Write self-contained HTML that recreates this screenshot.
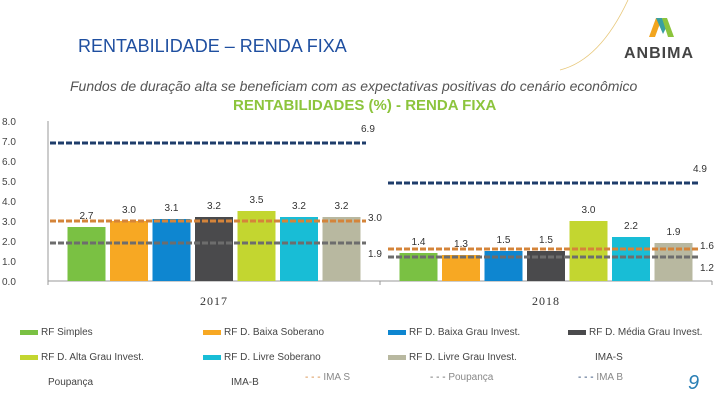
<!DOCTYPE html>
<html><head><meta charset="utf-8"><style>
body{margin:0;width:720px;height:405px;background:#fff;overflow:hidden;font-family:"Liberation Sans",sans-serif}
.t{position:absolute;white-space:nowrap}
.leg{position:absolute;font-size:10px;color:#444;white-space:nowrap}
.sw{display:inline-block;width:18px;height:5px;vertical-align:middle;margin-right:3px}
</style></head><body>
<div class="t" style="left:78px;top:36px;font-size:18px;color:#1f4fa0">RENTABILIDADE – RENDA FIXA</div>
<div class="t" style="left:70px;top:78px;font-size:14px;font-style:italic;color:#555">Fundos de duração alta se beneficiam com as expectativas positivas do cenário econômico</div>
<div class="t" style="left:233px;top:97px;font-size:15px;font-weight:bold;color:#8cc43c">RENTABILIDADES (%) - RENDA FIXA</div>
<svg style="position:absolute;left:0;top:0" width="720" height="80">
<path d="M628 0 Q600 60 560 70" stroke="#e8c87a" fill="none" stroke-width="0.8"/>
<polygon points="649,37 656,18 662,18 655,37" fill="#f2a51e"/>
<polygon points="656,18 662,18 666,28 663,34" fill="#3aa0a0"/>
<polygon points="662,18 667,18 674,37 668,37" fill="#8cc43c"/>
<text x="624" y="58" font-size="16" font-weight="bold" fill="#444" font-family="Liberation Sans" letter-spacing="1">ANBIMA</text>
</svg>
<svg id="chart" style="position:absolute;left:0;top:0" width="720" height="405"></svg>
<div class="leg" style="left:20px;top:327px"><span class="sw" style="background:#7ac143"></span>RF Simples</div>
<div class="leg" style="left:203px;top:327px"><span class="sw" style="background:#f7a823"></span>RF D. Baixa Soberano</div>
<div class="leg" style="left:388px;top:327px"><span class="sw" style="background:#0e86d0"></span>RF D. Baixa Grau Invest.</div>
<div class="leg" style="left:568px;top:327px"><span class="sw" style="background:#4a4a4c"></span>RF D. Média Grau Invest.</div>
<div class="leg" style="left:20px;top:352px"><span class="sw" style="background:#c3d630"></span>RF D. Alta Grau Invest.</div>
<div class="leg" style="left:203px;top:352px"><span class="sw" style="background:#18bdd6"></span>RF D. Livre Soberano</div>
<div class="leg" style="left:388px;top:352px"><span class="sw" style="background:#b8b8a0"></span>RF D. Livre Grau Invest.</div>
<div class="leg" style="left:595px;top:352px">IMA-S</div>
<div class="leg" style="left:48px;top:377px">Poupança</div>
<div class="leg" style="left:231px;top:377px">IMA-B</div>
<div class="leg" style="left:305px;top:372px;color:#888"><span style="color:#d4843a">- - -</span> IMA S</div>
<div class="leg" style="left:430px;top:372px;color:#888"><span style="color:#666">- - -</span> Poupança</div>
<div class="leg" style="left:578px;top:372px;color:#888"><span style="color:#1f3d6b">- - -</span> IMA B</div>
<div class="t" style="left:688px;top:372px;font-size:20px;font-style:italic;color:#2a7fb5">9</div>
<script>
const years=["2017","2018"];
const colors=["#7ac143","#f7a823","#0e86d0","#4a4a4c","#c3d630","#18bdd6","#b8b8a0"];
const vals2017=[2.7,3.0,3.1,3.2,3.5,3.2,3.2];
const vals2018=[1.4,1.3,1.5,1.5,3.0,2.2,1.9];
const imaB=[6.9,4.9];
const imaS=[3.0,1.6];
const poup=[1.9,1.2];
const yTicks=[0,1,2,3,4,5,6,7,8];
const NS="http://www.w3.org/2000/svg";
const svg=document.getElementById("chart");
const y0=281,ppu=20,x0=48,x1=712;
const y=v=>y0-v*ppu;
const bandW=(x1-x0)/years.length;
function el(t,a,txt){const e=document.createElementNS(NS,t);for(const k in a)e.setAttribute(k,a[k]);if(txt!=null)e.textContent=txt;svg.appendChild(e);return e;}
yTicks.forEach(t=>{const e=el("text",{x:2,y:y(t)+4,"font-size":10,fill:"#444","font-family":"Liberation Sans"},t.toFixed(1));

});
let ax=el("line",{x1:x0,y1:121,x2:x0,y2:y0,stroke:"#999"});

let bx=el("line",{x1:x0,y1:y0,x2:x1,y2:y0,stroke:"#999"});

[0,1,2].forEach(i=>{el("line",{x1:x0+i*bandW,y1:y0,x2:x0+i*bandW,y2:y0+4,stroke:"#999"});});
const series=[vals2017,vals2018];
const step=42.5,bw=38;
series.forEach((vals,g)=>{
  const cx=x0+bandW*(g+0.5);
  const start=cx-step*(vals.length-1)/2-bw/2;
  vals.forEach((v,i)=>{
    const bx=start+i*step;
    const r=el("rect",{x:bx,y:y(v),width:bw,height:v*ppu,fill:colors[i]});
    
    
    const l=el("text",{x:bx+bw/2,y:y(v)-8,"font-size":10,fill:"#333","text-anchor":"middle","font-family":"Liberation Sans"},v.toFixed(1));
    
    
  });
  const yl=el("text",{x:cx,y:305,"font-size":12,fill:"#333","text-anchor":"middle","font-family":"Liberation Serif","letter-spacing":"1"},years[g]);
  
  
  const lx1=x0+bandW*g+(g?8:2), lx2=x0+bandW*(g+1)-14;
  [[imaB,"#1f3d6b"],[imaS,"#d4843a"],[poup,"#6d6d6d"]].forEach(([arr,c],k)=>{
    const ln=el("line",{x1:lx1,y1:y(arr[g]),x2:lx2,y2:y(arr[g]),stroke:c,"stroke-width":3,"stroke-dasharray":"6 2"});
    
    
    const dy=k==0?-11:(k==1?0:14);
    const t=el("text",{x:lx2+(k==0?-5:2),y:y(arr[g])+dy,"font-size":10,fill:"#333","font-family":"Liberation Sans"},arr[g].toFixed(1));
    
    
  });
});
</script>
</body></html>
